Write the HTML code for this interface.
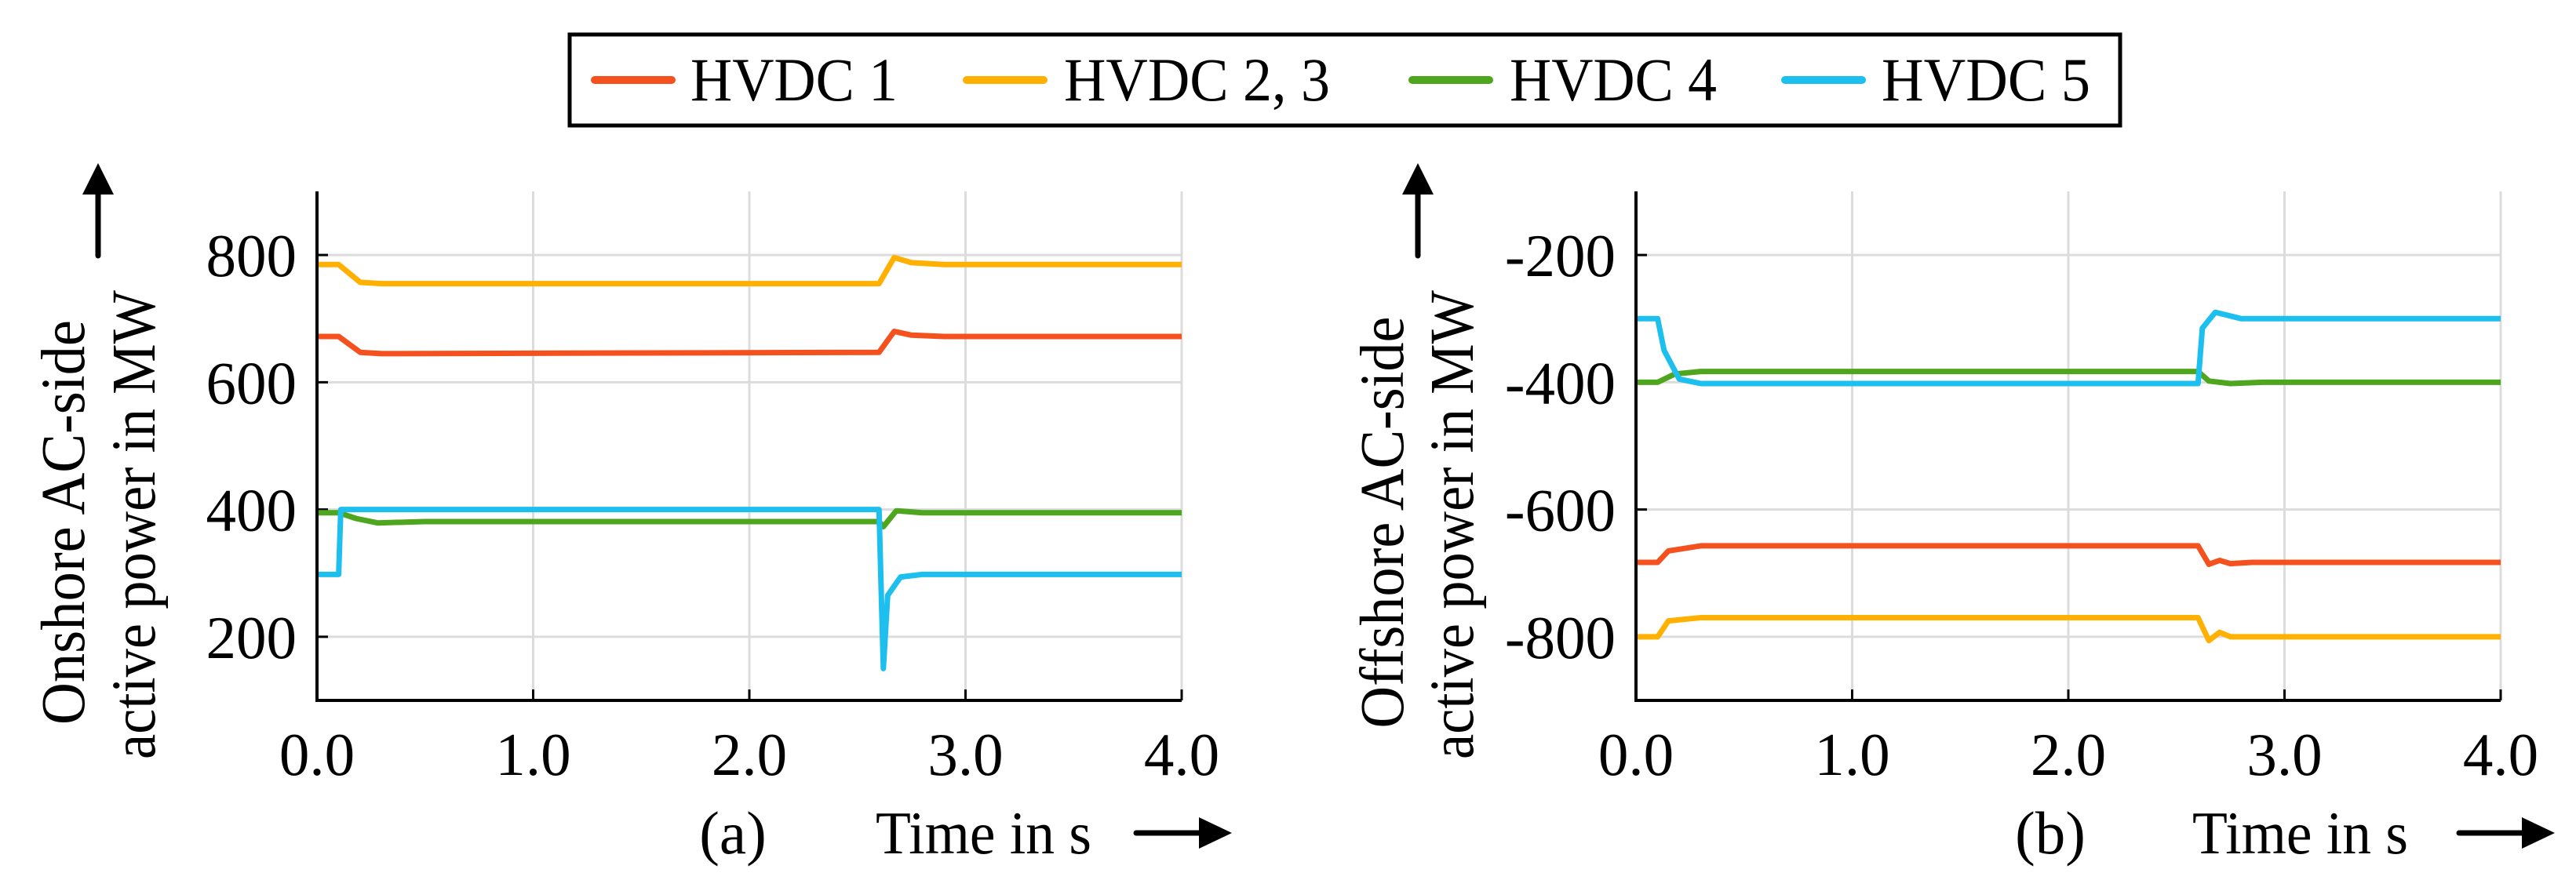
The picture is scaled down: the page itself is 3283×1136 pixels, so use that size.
<!DOCTYPE html>
<html><head><meta charset="utf-8"><style>
html,body{margin:0;padding:0;background:#fff;}
svg{display:block;font-family:"Liberation Serif",serif;}
</style></head><body>
<svg id="fig" width="3283" height="1136" viewBox="0 0 3283 1136" xmlns="http://www.w3.org/2000/svg">
<g>
<rect x="726" y="44" width="1976" height="116" fill="#fff" stroke="#000" stroke-width="5"/>
<line x1="758" y1="102" x2="856" y2="102" stroke="#f4511e" stroke-width="10" stroke-linecap="round"/>
<text x="880" y="128" font-size="78" textLength="264" lengthAdjust="spacingAndGlyphs">HVDC 1</text>
<line x1="1232" y1="102" x2="1330" y2="102" stroke="#ffb000" stroke-width="10" stroke-linecap="round"/>
<text x="1356" y="128" font-size="78" textLength="339" lengthAdjust="spacingAndGlyphs">HVDC 2, 3</text>
<line x1="1800" y1="102" x2="1898" y2="102" stroke="#4ea61e" stroke-width="10" stroke-linecap="round"/>
<text x="1924" y="128" font-size="78" textLength="264" lengthAdjust="spacingAndGlyphs">HVDC 4</text>
<line x1="2275" y1="102" x2="2373" y2="102" stroke="#1cbfee" stroke-width="10" stroke-linecap="round"/>
<text x="2398" y="128" font-size="78" textLength="266" lengthAdjust="spacingAndGlyphs">HVDC 5</text>
</g>
</svg>
<script>
// Panel (a) onshore data
const tA1 = [0, 0.1, 0.2, 0.3, 2.6, 2.67, 2.75, 2.9, 4.0];
const vA1 = [672, 672, 647, 645, 647, 680, 674, 672, 672];
const tA23 = [0, 0.1, 0.2, 0.3, 2.6, 2.67, 2.75, 2.9, 4.0];
const vA23 = [785, 785, 757, 755, 755, 796, 788, 785, 785];
const tA4 = [0, 0.1, 0.18, 0.28, 0.5, 2.6, 2.62, 2.68, 2.8, 4.0];
const vA4 = [395, 395, 386, 379, 381, 381, 373, 398, 395, 395];
const tA5 = [0, 0.1, 0.11, 2.6, 2.61, 2.62, 2.64, 2.7, 2.8, 4.0];
const vA5 = [298, 298, 400, 400, 270, 150, 265, 294, 298, 298];
// Panel (b) offshore data
const tB1 = [0, 0.1, 0.15, 0.3, 2.6, 2.65, 2.7, 2.75, 2.85, 4.0];
const vB1 = [-683, -683, -665, -657, -657, -686, -680, -685, -683, -683];
const tB23 = [0, 0.1, 0.15, 0.3, 2.6, 2.65, 2.7, 2.75, 2.85, 4.0];
const vB23 = [-800, -800, -775, -770, -770, -806, -793, -800, -800, -800];
const tB4 = [0, 0.1, 0.18, 0.3, 2.6, 2.65, 2.75, 2.9, 4.0];
const vB4 = [-400, -400, -387, -383, -383, -398, -402, -400, -400];
const tB5 = [0, 0.1, 0.13, 0.2, 0.3, 2.6, 2.62, 2.68, 2.8, 4.0];
const vB5 = [-300, -300, -350, -395, -402, -402, -315, -290, -300, -300];
const xTicks = [0, 1, 2, 3, 4];
const xTickLabels = ["0.0", "1.0", "2.0", "3.0", "4.0"];
const yTicksA = [200, 400, 600, 800];
const yTicksB = [-800, -600, -400, -200];

const NS = "http://www.w3.org/2000/svg";
const svg = document.getElementById("fig");
const COL = {h1:"#f4511e", h23:"#ffb000", h4:"#4ea61e", h5:"#1cbfee"};
function mk(tag, attrs, parent){const e=document.createElementNS(NS,tag);for(const k in attrs)e.setAttribute(k,attrs[k]);(parent||svg).appendChild(e);return e;}

function panel(p){
  const g = mk("g",{});
  
  
  const xs = t => p.x0 + (t - 0) / 4 * (p.x1 - p.x0);
  const ys = v => p.y1 - (v - p.ymin) / (p.ymax - p.ymin) * (p.y1 - p.y0);
  xTicks.forEach((t,i)=>{
    if(i>0){const l=mk("line",{x1:xs(t),x2:xs(t),y1:p.y0,y2:p.y1,stroke:"#dcdcdc","stroke-width":3},g);
    
    }
    const tk=mk("line",{x1:xs(t),x2:xs(t),y1:p.y1-14,y2:p.y1,stroke:"#000","stroke-width":3},g);
    
    
    const tx=mk("text",{x:xs(t),y:988,"font-size":77,"text-anchor":"middle"},g);
    tx.textContent=xTickLabels[i];
    
    
  });
  p.yticks.forEach(v=>{
    const l=mk("line",{x1:p.x0,x2:p.x1,y1:ys(v),y2:ys(v),stroke:"#dcdcdc","stroke-width":3},g);
    
    
    const tk=mk("line",{x1:p.x0,x2:p.x0+14,y1:ys(v),y2:ys(v),stroke:"#000","stroke-width":3},g);
    
    
    const tx=mk("text",{x:p.labelX,y:ys(v)+27,"font-size":77,"text-anchor":"end"},g);
    tx.textContent=String(v);
    
    
  });
  p.series.forEach(s=>{
    const d=s.t.map((t,i)=>(i?"L":"M")+xs(t).toFixed(1)+" "+ys(s.v[i]).toFixed(1)).join(" ");
    const path=mk("path",{d:d,fill:"none",stroke:s.c,"stroke-width":7,"stroke-linejoin":"round"},g);
    
    
  });
  const ax=mk("path",{d:`M${p.x0} ${p.y0} L${p.x0} ${p.y1} L${p.x1} ${p.y1}`,fill:"none",stroke:"#000","stroke-width":4},g);
  
  
  const yt=mk("text",{transform:`translate(${p.ytx1},666) rotate(-90)`,"font-size":79,"text-anchor":"middle",textLength:p.yl1,lengthAdjust:"spacingAndGlyphs"},g);
  yt.textContent=p.yt1;
  
  
  const yt2=mk("text",{transform:`translate(${p.ytx2},669) rotate(-90)`,"font-size":79,"text-anchor":"middle",textLength:598,lengthAdjust:"spacingAndGlyphs"},g);
  yt2.textContent="active power in MW";
  
  
  const ua=mk("line",{x1:p.ua,x2:p.ua,y1:326,y2:240,stroke:"#000","stroke-width":7,"stroke-linecap":"round"},g);
  
  
  const uah=mk("polygon",{points:`${p.ua-20},248 ${p.ua+20},248 ${p.ua},208`,fill:"#000"},g);
  
  
  const sl=mk("text",{x:p.subX,y:1088,"font-size":77,"text-anchor":"middle"},g);
  sl.textContent=p.sub;
  
  
  const tl=mk("text",{x:p.timeX,y:1088,"font-size":77,"textLength":275,lengthAdjust:"spacingAndGlyphs"},g);
  tl.textContent="Time in s";
  
  
  const ra=mk("line",{x1:p.raX,x2:p.raX+84,y1:1062,y2:1062,stroke:"#000","stroke-width":7,"stroke-linecap":"round"},g);
  
  
  const rah=mk("polygon",{points:`${p.raX+80},1042 ${p.raX+80},1082 ${p.raX+122},1062`,fill:"#000"},g);
  
  
}

panel({name:"panel-a-onshore",x0:404,x1:1506,y0:244,y1:893,ymin:100,ymax:900,yticks:yTicksA,labelX:378,
  ytx1:107,ytx2:197,yt1:"Onshore AC-side",yl1:516,ua:125,sub:"(a)",subX:934,timeX:1116,raX:1448,
  series:[{t:tA1,v:vA1,c:COL.h1,n:"line-a-hvdc1"},{t:tA23,v:vA23,c:COL.h23,n:"line-a-hvdc23"},
          {t:tA4,v:vA4,c:COL.h4,n:"line-a-hvdc4"},{t:tA5,v:vA5,c:COL.h5,n:"line-a-hvdc5"}]});
panel({name:"panel-b-offshore",x0:2085,x1:3187,y0:244,y1:893,ymin:-900,ymax:-100,yticks:yTicksB,labelX:2059,
  ytx1:1788,ytx2:1877,yt1:"Offshore AC-side",yl1:525,ua:1807,sub:"(b)",subX:2613,timeX:2794,raX:3134,
  series:[{t:tB1,v:vB1,c:COL.h1,n:"line-b-hvdc1"},{t:tB23,v:vB23,c:COL.h23,n:"line-b-hvdc23"},
          {t:tB4,v:vB4,c:COL.h4,n:"line-b-hvdc4"},{t:tB5,v:vB5,c:COL.h5,n:"line-b-hvdc5"}]});
</script>
</body></html>
